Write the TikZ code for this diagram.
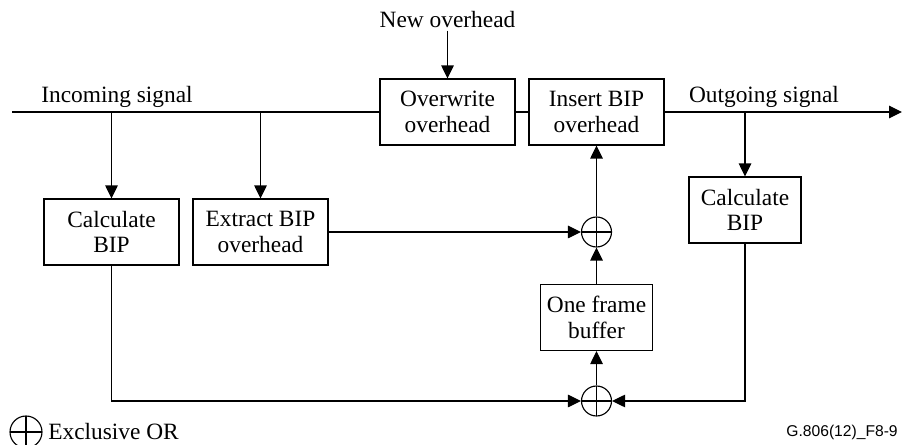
\documentclass[tikz,border=0pt]{standalone}
\usepackage{fontspec}
\setmainfont{Liberation Serif}
\newfontfamily\figsans{Liberation Sans}
\usepackage{tikz}
\usetikzlibrary{arrows.meta}

\begin{document}
\begin{tikzpicture}[
    x=0.02cm, y=-0.02cm,
    >={Triangle[length=2.6mm,width=2.5mm]},
    line width=0.65pt,
    font=\fontsize{13.3}{14.6}\selectfont,
    blk/.style={draw, align=center, minimum width=2.7cm, minimum height=1.32cm, inner sep=1pt},
    blks/.style={blk, minimum width=2.24cm},
    xorgate/.style={draw, circle, minimum size=0.6cm, inner sep=0pt,
        path picture={\draw (path picture bounding box.north) -- (path picture bounding box.south)
                            (path picture bounding box.west) -- (path picture bounding box.east);}},
    lbl/.style={inner sep=1pt}
]
\useasboundingbox (0,0) rectangle (902,445);

\node[blk] (ow) at (447.5,112) {Overwrite\\overhead};
\node[blk] (ins) at (596.5,112) {Insert BIP\\overhead};
\node[blk] (calcin) at (111.5,232) {Calculate\\BIP};
\node[blk] (extr) at (260.5,232) {Extract BIP\\overhead};
\node[blks] (calcout) at (745,210) {Calculate\\BIP};
\node[blks] (buf) at (596.5,317.5) {One frame\\buffer};
\node[xorgate] (xora) at (596.5,232) {};
\node[xorgate] (xorb) at (596.5,401) {};

\node[lbl] (newoh) at (447.5,20) {New overhead};
\node[lbl] (insig) at (117,97) {Incoming signal};
\node[lbl] (outsig) at (764,97) {Outgoing signal};
\coordinate (in) at (12,112);
\coordinate (out) at (902,112);

% legend
\node[xorgate, minimum size=0.64cm] (key) at (26,432) {};
\node[lbl, anchor=west] (keytxt) at (46,432) {Exclusive OR};
\node[lbl, anchor=east, font=\figsans\fontsize{8.9}{10}\selectfont] (figref) at (900,432) {G.806(12)\_F8-9};

\draw (in) -- (ow.west);
\draw (ow.east) -- (ins.west);
\draw[->] (ins.east) -- (out);
\draw[->] (newoh.south) -- (ow.north);
\draw[->] (calcin.north |- in) -- (calcin.north);
\draw[->] (extr.north |- in) -- (extr.north);
\draw[->] (calcout.north |- out) -- (calcout.north);
\draw[->] (extr.east) -- (xora.west);
\draw[->] (xora.north) -- (ins.south);
\draw[->] (buf.north) -- (xora.south);
\draw[->] (xorb.north) -- (buf.south);
\draw[->] (calcin.south) |- (xorb.west);
\draw[->] (calcout.south) |- (xorb.east);
\end{tikzpicture}
\end{document}
